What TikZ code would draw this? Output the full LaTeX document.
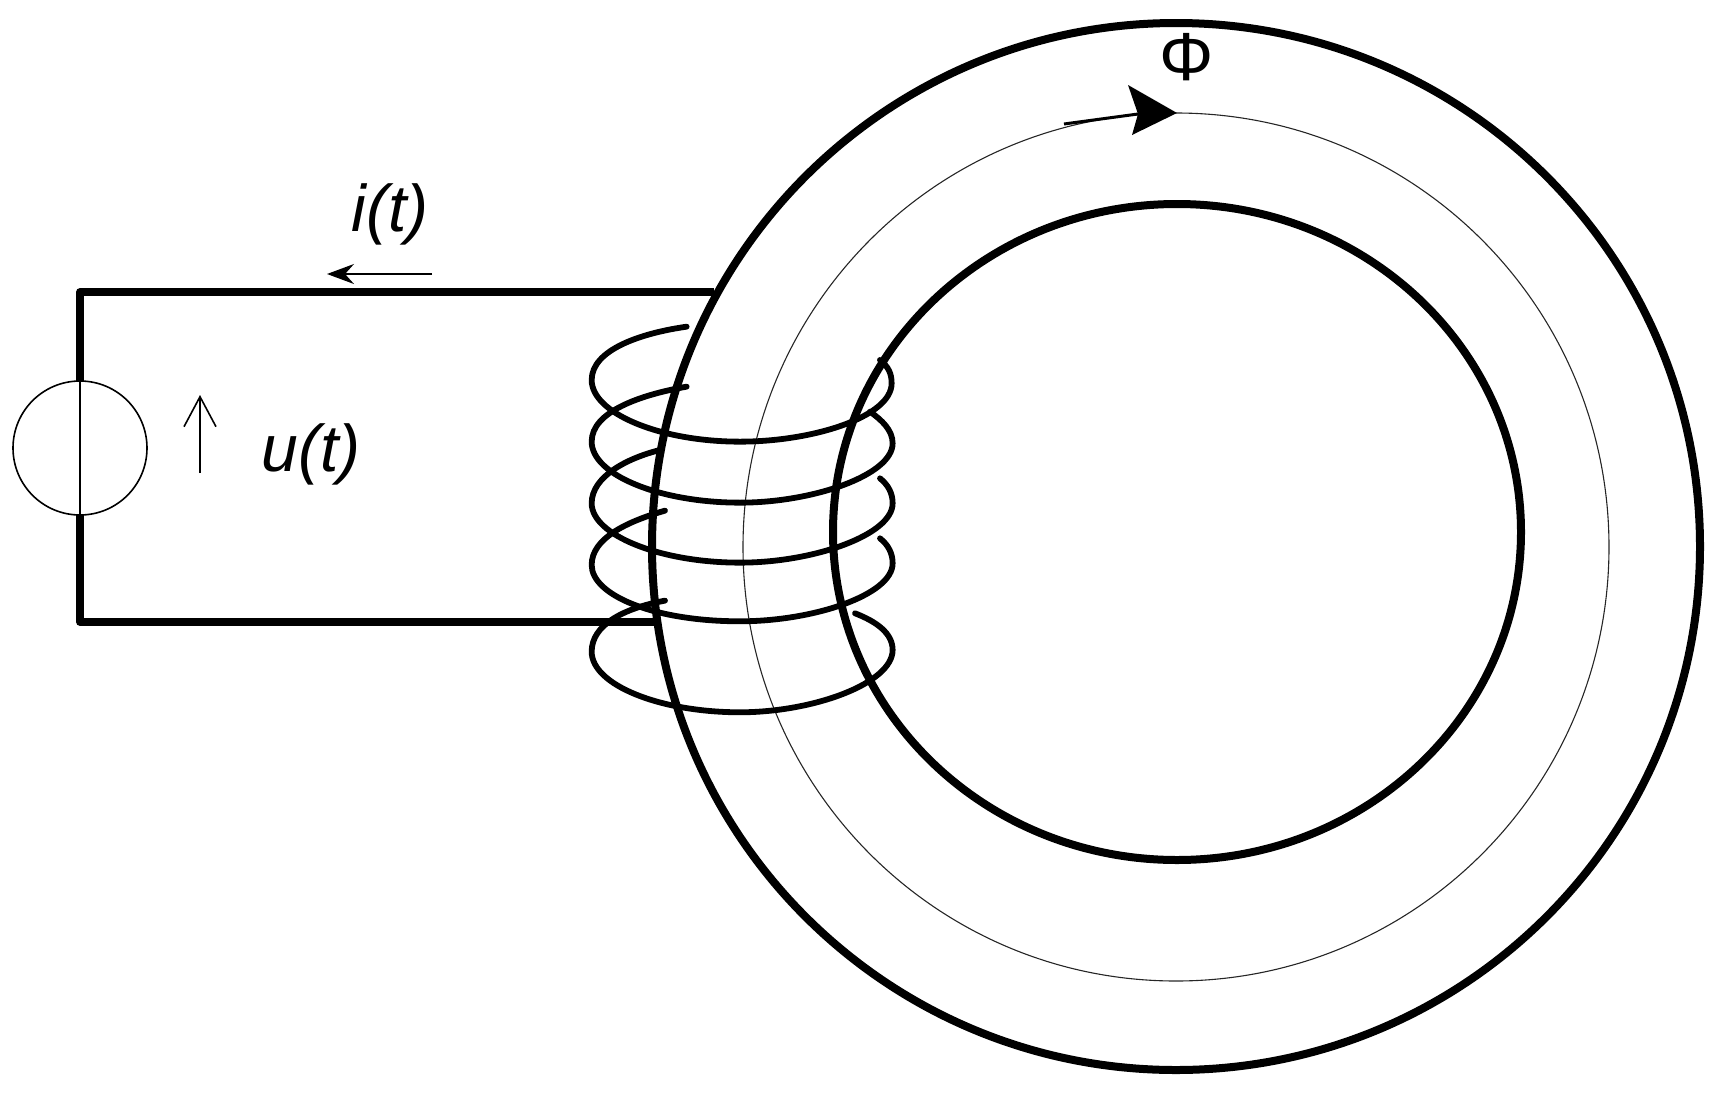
\documentclass[tikz,border=0pt]{standalone}
\usepackage{fontspec}
\setmainfont{Liberation Sans}
\usepackage{tikz}
\usetikzlibrary{arrows.meta}
\usetikzlibrary{shapes.geometric}

\begin{document}
\begin{tikzpicture}[x=1pt, y=-1pt,
    every node/.style={inner sep=0pt, outer sep=0pt},
    wire/.style={line width=7.5pt, line join=round},
    ringline/.style={line width=8pt},
    fluxline/.style={line width=1.1pt, black!85},
    coilturn/.style={line width=5.8pt, line cap=round},
    thinline/.style={line width=1.6pt},
    label/.style={font=\fontsize{66}{66}\selectfont\itshape}]
    \useasboundingbox (0,0) rectangle (1727,1101);
    
    \draw[ringline] (1176,546.5) ellipse (524 and 523.5);
    \draw[ringline] (1177,532) ellipse (344 and 328);
    \draw[fluxline] (1176,547) ellipse (433 and 434);
    
    \node[circle, draw, thinline, minimum size=134pt] (src) at (80,448) {};
    \coordinate (wiretop) at (714,292);
    \coordinate (wirebot) at (655,622);
    \coordinate (cornertop) at (80,292);
    \coordinate (cornerbot) at (80,622);
    \draw[wire] (wiretop) -- (cornertop) -- (src.north);
    \draw[wire] (wirebot) -- (cornerbot) -- (src.south);
    \draw[thinline] (src.north) -- (src.south);
    
    \coordinate (itail) at (432,274);
    \coordinate (ihead) at (327,274);
    \draw[thinline, -{Stealth[length=27pt, width=20pt, inset=9pt]}] (itail) -- (ihead);
    \coordinate (utail) at (200,473);
    \coordinate (uhead) at (200,395);
    \draw[thinline, -{Straight Barb[length=30pt, width=32pt]}] (utail) -- (uhead);
    \coordinate (phitail) at (1064,124);
    \coordinate (phinotch) at (1138,114);
    \draw[line width=3pt] (phitail) -- (phinotch);
    \fill (1177,113) -- (1128,85) -- (phinotch) -- (1132,135) -- cycle;
    
    \node[label] (ilabel) at (390,214) {i(t)};
    \node[label] (ulabel) at (311,454) {u(t)};
    \node[font=\fontsize{68}{68}\selectfont] (philabel) at (1187,57) {Φ};
    
    \begin{scope}[shift={(560,280)}, x=0.3333pt, y=-0.3333pt]
        \draw[coilturn] (380,140) .. controls (240,160) and (95,210) .. (95,300) .. controls (95,400) and (300,485) .. (540,485) .. controls (760,485) and (995,410) .. (995,310) .. controls (995,280) and (985,260) .. (960,240);
        \draw[coilturn] (380,320) .. controls (240,345) and (95,395) .. (95,485) .. controls (95,585) and (300,668) .. (540,668) .. controls (760,668) and (998,585) .. (998,490) .. controls (998,450) and (965,420) .. (930,395);
        \draw[coilturn] (300,510) .. controls (200,535) and (95,590) .. (95,670) .. controls (95,765) and (300,848) .. (540,848) .. controls (760,848) and (998,765) .. (998,670) .. controls (998,640) and (985,615) .. (960,595);
        \draw[coilturn] (315,692) .. controls (200,725) and (95,775) .. (95,855) .. controls (95,945) and (280,1024) .. (540,1024) .. controls (760,1024) and (998,945) .. (998,850) .. controls (998,820) and (985,795) .. (960,775);
        \draw[coilturn] (315,962) .. controls (190,985) and (95,1035) .. (95,1115) .. controls (95,1215) and (300,1297) .. (540,1297) .. controls (760,1297) and (998,1210) .. (998,1110) .. controls (998,1060) and (950,1025) .. (885,1000);
    \end{scope}
\end{tikzpicture}
\end{document}
